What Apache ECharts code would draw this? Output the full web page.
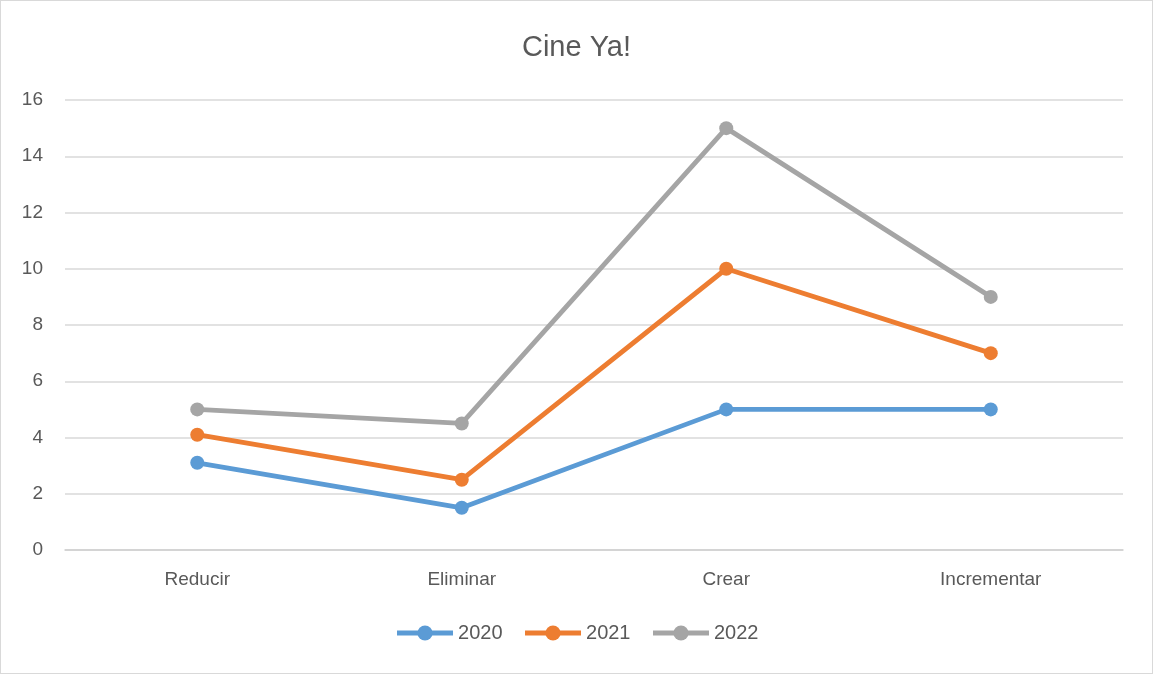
<!DOCTYPE html>
<html>
<head>
<meta charset="utf-8">
<script src="https://cdn.jsdelivr.net/npm/echarts@6/dist/echarts.min.js"></script>
<style>
  html, body { margin: 0; padding: 0; background: #fff; }
  #main { width: 1151px; height: 672px; border: 1px solid #d9d9d9; }
</style>
</head>
<body>
<div id="main"></div>
<script>
var categories = ['Reducir', 'Eliminar', 'Crear', 'Incrementar'];
var seriesNames = ['2020', '2021', '2022'];
var values2020 = [3.1, 1.5, 5, 5];
var values2021 = [4.1, 2.5, 10, 7];
var values2022 = [5, 4.5, 15, 9];
var colors = ['#5B9BD5', '#ED7D31', '#A5A5A5'];

var chart = echarts.init(document.getElementById('main'));
var textFont = 'Liberation Sans';

function makeSeries(name, data, color) {
    return {
        name: name,
        type: 'line',
        data: data,
        symbol: 'circle',
        symbolSize: 14,
        lineStyle: { width: 4.8, color: color },
        itemStyle: { color: color },
        emphasis: { disabled: true }
    };
}

var option = {
    animation: false,
    title: {
        text: 'Cine Ya!',
        left: 'center',
        top: 27,
        textStyle: { fontFamily: textFont, fontSize: 29, fontWeight: 'normal', color: '#595959' }
    },
    legend: {
        data: seriesNames,
        bottom: 25,
        left: 'center',
        itemWidth: 56,
        itemHeight: 19,
        itemGap: 20,
        lineStyle: { width: 5 },
        textStyle: { fontFamily: textFont, fontSize: 20, color: '#595959' }
    },
    grid: { left: 64, right: 29, top: 99, bottom: 123 },
    xAxis: {
        type: 'category',
        data: categories,
        axisTick: { show: false },
        axisLine: { lineStyle: { color: '#d0d0d0', width: 1.5 } },
        axisLabel: { fontFamily: textFont, fontSize: 19, color: '#595959', margin: 20 }
    },
    yAxis: {
        type: 'value',
        min: 0,
        max: 16,
        interval: 2,
        axisLine: { show: false },
        axisTick: { show: false },
        splitLine: { lineStyle: { color: '#d9d9d9', width: 1.5 } },
        axisLabel: { fontFamily: textFont, fontSize: 19, color: '#595959', margin: 22 }
    },
    series: [
        makeSeries(seriesNames[0], values2020, colors[0]),
        makeSeries(seriesNames[1], values2021, colors[1]),
        makeSeries(seriesNames[2], values2022, colors[2])
    ]
};
chart.setOption(option);
</script>
</body>
</html>
